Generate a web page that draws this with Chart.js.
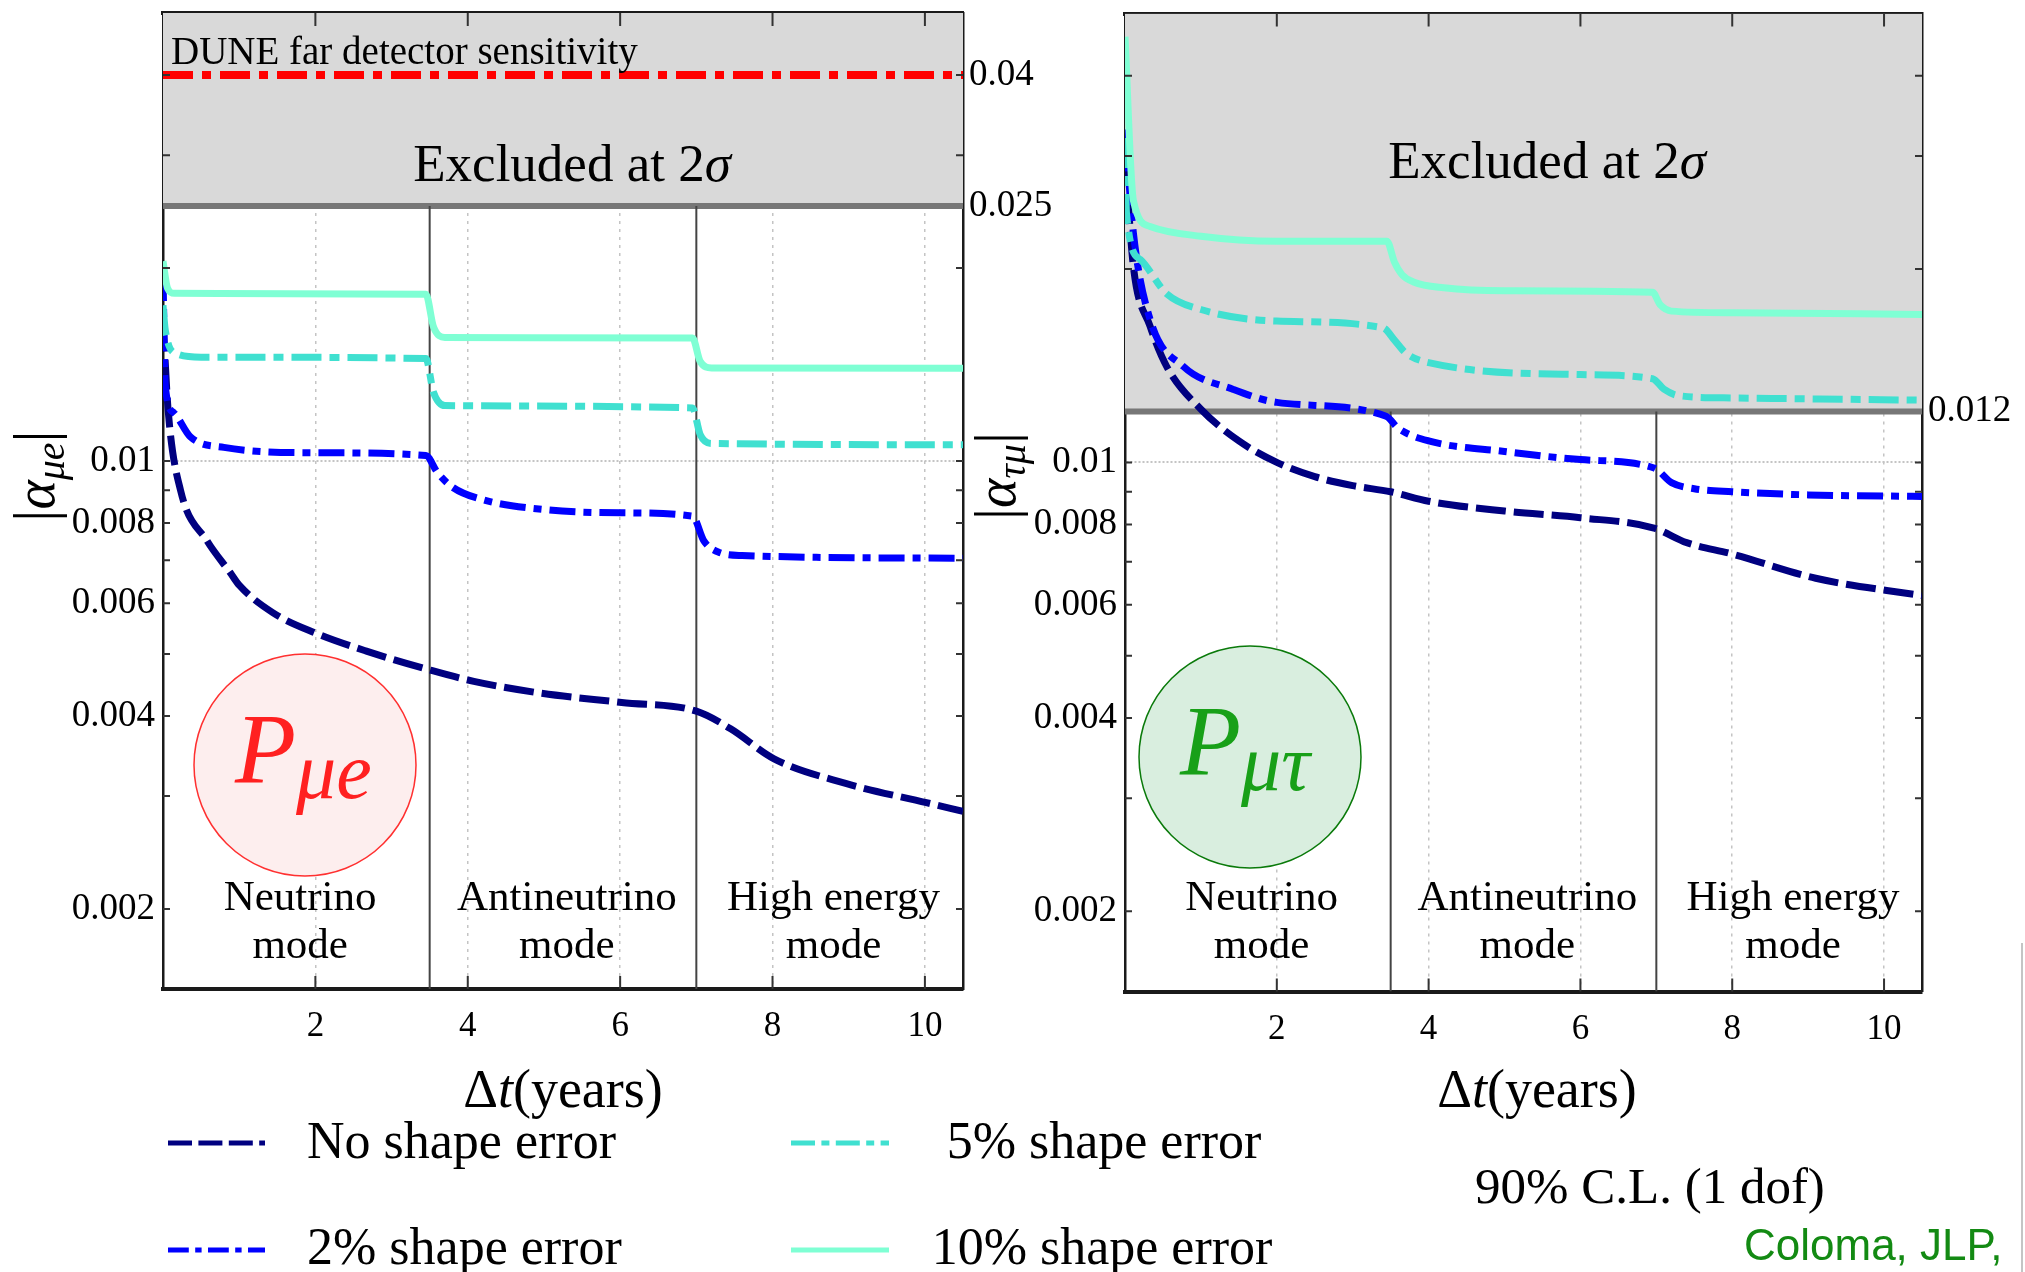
<!DOCTYPE html>
<html>
<head>
<meta charset="utf-8">
<script src="https://cdn.jsdelivr.net/npm/chart.js@4.4.1/dist/chart.umd.min.js"></script>
<style>
  html, body { margin: 0; padding: 0; background: #fff; }
  #wrap { position: relative; width: 2025px; height: 1272px; overflow: hidden; }
  #wrap canvas { position: absolute; left: 0; top: 0; }
</style>
</head>
<body>
<div id="wrap">
  <canvas id="chartMue" width="2025" height="1272"></canvas>
  <canvas id="chartMutau" width="2025" height="1272"></canvas>
</div>
<script>
// axis ranges and ticks
const X_MIN = 0, X_MAX = 10.5;
const Y_MIN = 0.0015, Y_MAX = 0.05;
const xTicks = [2, 4, 6, 8, 10];
const yTicks = [0.002, 0.004, 0.006, 0.008, 0.01];
const yMinorTicks = [0.002, 0.003, 0.004, 0.005, 0.006, 0.007, 0.008, 0.009, 0.01, 0.02, 0.03, 0.04];
const modeBreaks = [3.5, 7];
const modeNames = [["Neutrino", "mode"], ["Antineutrino", "mode"], ["High energy", "mode"]];
const seriesNames = ["No shape error", "2% shape error", "5% shape error", "10% shape error"];

// P_mu_e panel
const mueBound = 0.025;
const mueDune = 0.04;
const mueRightTicks = [0.025, 0.04];
const mueNoX = [0, 0.07, 0.23, 0.58, 0.88, 1.0, 1.44, 2.0, 2.67, 3.5, 4.08, 4.97, 6.02, 7.0, 7.45, 8.02, 8.96, 10.02, 10.5];
const mueNoY = [0.0165, 0.0119, 0.0090, 0.0075, 0.0067, 0.0064, 0.0058, 0.00539, 0.00505, 0.00472, 0.00453, 0.00434, 0.0042, 0.00407, 0.00382, 0.00343, 0.00314, 0.00293, 0.00284];
const mue2X = [0, 0.03, 0.14, 0.36, 0.8, 2.0, 3.45, 3.6, 3.8, 4.2, 5.0, 6.0, 6.95, 7.1, 7.3, 7.6, 10.5];
const mue2Y = [0.0195, 0.0131, 0.0119, 0.0109, 0.0105, 0.0103, 0.0102, 0.0096, 0.0091, 0.0087, 0.0084, 0.0083, 0.0082, 0.0075, 0.0072, 0.00712, 0.00705];
const mue5X = [0, 0.03, 0.18, 0.5, 3.45, 3.55, 3.7, 6.95, 7.05, 7.2, 10.5];
const mue5Y = [0.0175, 0.016, 0.0147, 0.01452, 0.01445, 0.0128, 0.0122, 0.0121, 0.011, 0.01065, 0.0106];
const mue10X = [0, 0.06, 0.15, 3.45, 3.55, 3.7, 6.95, 7.05, 7.2, 10.5];
const mue10Y = [0.0205, 0.0186, 0.01826, 0.0182, 0.0162, 0.01558, 0.01555, 0.0143, 0.01397, 0.01395];

// P_mu_tau panel
const mtBound = 0.012;
const mtRightTicks = [0.012];
const mtNoX = [0, 0.11, 0.33, 0.55, 1.0, 1.5, 2.0, 2.5, 3.0, 3.5, 4.0, 5.0, 6.0, 6.97, 7.4, 8.0, 9.1, 10.5];
const mtNoY = [0.030, 0.0202, 0.0163, 0.0141, 0.0121, 0.0108, 0.0100, 0.0095, 0.0092, 0.0090, 0.0087, 0.0084, 0.0082, 0.0079, 0.0075, 0.0072, 0.0066, 0.0062];
const mt2X = [0, 0.11, 0.33, 0.77, 1.42, 2.0, 3.44, 3.6, 4.0, 5.0, 6.0, 6.97, 7.2, 7.5, 8.0, 9.0, 10.5];
const mt2Y = [0.033, 0.0228, 0.0167, 0.0141, 0.013, 0.0124, 0.0118, 0.0113, 0.0108, 0.0104, 0.0101, 0.0098, 0.0093, 0.0091, 0.0090, 0.0089, 0.00885];
const mt5X = [0, 0.02, 0.2, 0.55, 1.0, 2.0, 3.4, 3.55, 3.7, 4.0, 6.0, 6.95, 7.1, 7.3, 8.0, 10.5];
const mt5Y = [0.032, 0.0244, 0.0207, 0.0183, 0.0173, 0.0166, 0.0162, 0.0155, 0.0148, 0.0143, 0.0137, 0.0135, 0.013, 0.0127, 0.0126, 0.0125];
const mt10X = [0, 0.11, 0.33, 1.0, 2.0, 3.45, 3.55, 3.65, 3.8, 4.2, 5.0, 6.95, 7.05, 7.2, 8.0, 10.5];
const mt10Y = [0.046, 0.0256, 0.0233, 0.0225, 0.0221, 0.0221, 0.0205, 0.0196, 0.0191, 0.0187, 0.0185, 0.0184, 0.0176, 0.0172, 0.0171, 0.017];

const SERIF = '"Liberation Serif", "DejaVu Serif", serif';
const font = (size, style) => (style ? style + " " : "") + size + "px " + SERIF;
const COLORS = ["#000080", "#0000ff", "#40e0d0", "#7fffd4"];
const DASHES = [[30, 8], [26, 8, 8, 8], [30, 8, 10, 8], []];

function series(xs, ys) {
  return xs.map((x, i) => ({ x: x, y: ys[i] }));
}

// draws a row of differently styled text pieces
function drawRuns(ctx, runs, x, y, align) {
  let w = 0;
  runs.forEach(r => { ctx.font = r.f; r.w = ctx.measureText(r.t).width; w += r.w; });
  let cx = align === "center" ? x - w / 2 : x;
  ctx.textAlign = "left";
  ctx.textBaseline = "alphabetic";
  runs.forEach(r => { ctx.font = r.f; ctx.fillText(r.t, cx, y + (r.dy || 0)); cx += r.w; });
}

function drawInwardTicks(chart) {
  const { ctx, chartArea: a, scales } = chart;
  ctx.save();
  ctx.strokeStyle = "#333";
  ctx.lineWidth = 2;
  ctx.beginPath();
  xTicks.forEach(v => {
    const px = scales.x.getPixelForValue(v);
    ctx.moveTo(px, a.bottom); ctx.lineTo(px, a.bottom - 13);
    ctx.moveTo(px, a.top); ctx.lineTo(px, a.top + 13);
  });
  yMinorTicks.forEach(v => {
    const py = scales.y.getPixelForValue(v);
    ctx.moveTo(a.left, py); ctx.lineTo(a.left + 7, py);
    ctx.moveTo(a.right, py); ctx.lineTo(a.right - 7, py);
  });
  ctx.stroke();
  ctx.restore();
}

function panelPlugin(cfg) {
  return {
    id: "panelDecor",
    afterDraw(chart) {
      const { ctx, chartArea: a, scales } = chart;
      drawInwardTicks(chart);
      ctx.save();
      ctx.fillStyle = "#000";

      // excluded region caption
      drawRuns(ctx, [{ t: "Excluded at 2", f: font(53) }, { t: "σ", f: font(53, "italic") }], cfg.excludedX, cfg.excludedY, "center");

      if (cfg.dune) {
        drawRuns(ctx, [{ t: "DUNE far detector sensitivity", f: font(39) }], a.left + 8, 64, "left");
      }

      // running mode labels
      const edges = [X_MIN].concat(modeBreaks, [X_MAX]);
      modeNames.forEach((lines, i) => {
        const mid = (edges[i] + edges[i + 1]) / 2 + 0.05;
        const px = scales.x.getPixelForValue(mid);
        drawRuns(ctx, [{ t: lines[0], f: font(43) }], px, 910, "center");
        drawRuns(ctx, [{ t: lines[1], f: font(43) }], px, 958, "center");
      });

      // channel bubble
      const c = cfg.bubble;
      ctx.beginPath();
      ctx.arc(c.x, c.y, 111, 0, Math.PI * 2);
      ctx.fillStyle = c.fill;
      ctx.fill();
      ctx.lineWidth = 1.5;
      ctx.strokeStyle = c.stroke;
      ctx.stroke();
      ctx.fillStyle = c.text;
      drawRuns(ctx, [{ t: "P", f: font(100, "italic") }, { t: c.sub, f: font(80, "italic"), dy: 16 }], c.x - 70, c.y + 17, "left");

      // axis titles
      ctx.fillStyle = "#000";
      drawRuns(ctx, [{ t: "Δ", f: font(54) }, { t: "t", f: font(54, "italic") }, { t: "(years)", f: font(54) }], cfg.xTitleX, 1107, "center");

      ctx.save();
      ctx.translate(cfg.yTitleX, 476);
      ctx.rotate(-Math.PI / 2);
      drawRuns(ctx, [
        { t: "|", f: font(60) },
        { t: "α", f: font(56, "italic") },
        { t: cfg.ySub, f: font(40, "italic"), dy: 10 },
        { t: "|", f: font(60) }
      ], 0, 16, "center");
      ctx.restore();

      if (cfg.extra) cfg.extra(chart);
      ctx.restore();
    }
  };
}

function drawLegend(chart) {
  const ctx = chart.ctx;
  const curves = chart.data.datasets.filter(d => seriesNames.includes(d.label));
  const slots = [
    { x1: 168, x2: 265, y: 1143, tx: 307, ty: 1158, align: "left" },
    { x1: 168, x2: 265, y: 1250, tx: 307, ty: 1264, align: "left" },
    { x1: 791, x2: 889, y: 1143, tx: 1104, ty: 1158, align: "center" },
    { x1: 791, x2: 889, y: 1250, tx: 1102, ty: 1264, align: "center" }
  ];
  seriesNames.forEach((name, i) => {
    const ds = curves.find(d => d.label === name);
    const s = slots[i];
    ctx.save();
    ctx.strokeStyle = ds.borderColor;
    ctx.lineWidth = 5;
    ctx.setLineDash((ds.borderDash || []).map(v => v * 0.8));
    ctx.beginPath();
    ctx.moveTo(s.x1, s.y);
    ctx.lineTo(s.x2, s.y);
    ctx.stroke();
    ctx.restore();
    ctx.fillStyle = "#000";
    drawRuns(ctx, [{ t: name, f: font(52) }], s.tx, s.ty, s.align);
  });
}

function drawNotes(chart) {
  const ctx = chart.ctx;
  ctx.fillStyle = "#000";
  drawRuns(ctx, [{ t: "90% C.L. (1 dof)", f: font(51) }], 1475, 1203, "left");
  ctx.fillStyle = "#138a13";
  drawRuns(ctx, [{ t: "Coloma, JLP,", f: '44px "Liberation Sans", Arial, sans-serif' }], 1744, 1260, "left");
  ctx.strokeStyle = "#c4c4c4";
  ctx.lineWidth = 2;
  ctx.beginPath();
  ctx.moveTo(2022, 943);
  ctx.lineTo(2022, 1272);
  ctx.stroke();
}

function buildPanel(id, cfg) {
  const g = cfg.geo;
  const YW = 90, XH = 60;
  const datasets = [];
  datasets.push({
    label: "excluded",
    data: series([X_MIN, X_MAX], [cfg.bound, cfg.bound]),
    borderColor: "#777777", borderWidth: 6,
    backgroundColor: "#d9d9d9", fill: "end", order: 10
  });
  modeBreaks.forEach(b => datasets.push({
    label: "mode",
    data: series([b, b], [Y_MIN, cfg.bound]),
    borderColor: "#444", borderWidth: 2, fill: false, order: 9
  }));
  if (cfg.dune) {
    datasets.push({
      label: "DUNE",
      data: series([X_MIN, X_MAX], [cfg.dune, cfg.dune]),
      borderColor: "#ff0000", borderWidth: 8, borderDash: [30, 9, 9, 9], fill: false, order: 0
    });
  }
  cfg.curves.forEach((c, i) => datasets.push({
    label: seriesNames[i],
    data: series(c[0], c[1]),
    borderColor: COLORS[i], borderWidth: 7, borderDash: DASHES[i],
    borderCapStyle: "butt", cubicInterpolationMode: "monotone",
    fill: false, order: 4 - i
  }));
  datasets.forEach(d => { d.pointRadius = 0; d.clip = 0; });

  // keep label overhang from pushing the plot area around
  const noPad = s => { s.paddingTop = 0; s.paddingBottom = 0; s.paddingLeft = 0; s.paddingRight = 0; };
  const tickFont = { family: SERIF, size: 37 };
  return new Chart(document.getElementById(id), {
    type: "line",
    data: { datasets: datasets },
    options: {
      responsive: false,
      animation: false,
      devicePixelRatio: 1,
      events: [],
      layout: {
        padding: { left: g.left - YW, right: 2025 - g.right - YW, top: g.top, bottom: 1272 - g.bottom - XH }
      },
      plugins: { legend: { display: false }, tooltip: { enabled: false } },
      scales: {
        x: {
          type: "linear", position: "bottom", min: X_MIN, max: X_MAX,
          afterBuildTicks: s => { s.ticks = xTicks.map(v => ({ value: v })); },
          afterFit: s => { s.height = XH; noPad(s); },
          ticks: { font: { family: SERIF, size: 35 }, color: "#000", padding: 17, maxRotation: 0, autoSkip: false },
          grid: { color: "#c4c4c4", lineWidth: 1.5, drawTicks: false },
          border: { color: "#1a1a1a", width: 4, dash: [3, 5] }
        },
        xTop: {
          type: "linear", position: "top", min: X_MIN, max: X_MAX,
          afterFit: s => { s.height = 0; noPad(s); },
          ticks: { display: false },
          grid: { display: false },
          border: { color: "#1a1a1a", width: 4 }
        },
        y: {
          type: "logarithmic", position: "left", min: Y_MIN, max: Y_MAX,
          afterBuildTicks: s => { s.ticks = yTicks.map(v => ({ value: v })); },
          afterFit: s => { s.width = YW; noPad(s); },
          ticks: { font: tickFont, color: "#000", padding: 8, callback: v => String(v), autoSkip: false },
          grid: {
            color: c => (c.tick && c.tick.value === 0.01) ? "#c4c4c4" : "rgba(0,0,0,0)",
            lineWidth: 2, drawTicks: false
          },
          border: { color: "#1a1a1a", width: 2.5, dash: [2, 2] }
        },
        y2: {
          type: "logarithmic", position: "right", min: Y_MIN, max: Y_MAX,
          afterBuildTicks: s => { s.ticks = cfg.rightTicks.map(v => ({ value: v })); },
          afterFit: s => { s.width = YW; noPad(s); },
          ticks: { font: tickFont, color: "#000", padding: 6, callback: v => String(v), autoSkip: false },
          grid: { display: false, drawTicks: false },
          border: { color: "#1a1a1a", width: 2.5 }
        }
      }
    },
    plugins: [panelPlugin(cfg)]
  });
}

buildPanel("chartMue", {
  geo: { left: 163, right: 963, top: 13, bottom: 989 },
  bound: mueBound,
  dune: mueDune,
  rightTicks: mueRightTicks,
  curves: [[mueNoX, mueNoY], [mue2X, mue2Y], [mue5X, mue5Y], [mue10X, mue10Y]],
  excludedX: 572, excludedY: 181,
  xTitleX: 563, yTitleX: 38, ySub: "μe",
  bubble: { x: 305, y: 765, sub: "μe", fill: "#fdeeee", stroke: "#ff3030", text: "#ff2020" },
  extra: drawLegend
});

buildPanel("chartMutau", {
  geo: { left: 1125, right: 1922, top: 13.5, bottom: 991.5 },
  bound: mtBound,
  dune: null,
  rightTicks: mtRightTicks,
  curves: [[mtNoX, mtNoY], [mt2X, mt2Y], [mt5X, mt5Y], [mt10X, mt10Y]],
  excludedX: 1547, excludedY: 178,
  xTitleX: 1537, yTitleX: 999, ySub: "τμ",
  bubble: { x: 1250, y: 757, sub: "μτ", fill: "#d9eedf", stroke: "#0a7a0a", text: "#18a018" },
  extra: drawNotes
});
</script>
</body>
</html>
